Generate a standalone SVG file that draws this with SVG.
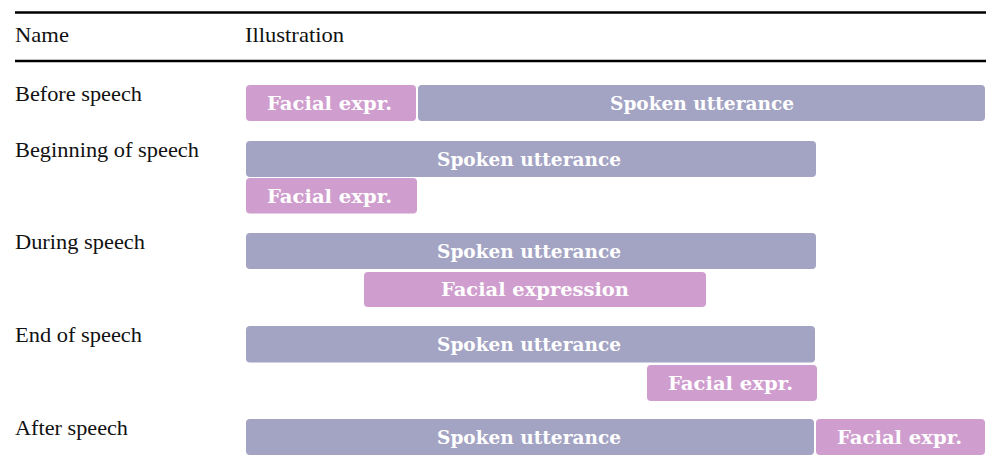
<svg xmlns="http://www.w3.org/2000/svg" width="986" height="467" viewBox="0 0 986 467">
  <style>
    .rule { stroke: #000; stroke-width: 2.4; }
    .head, .name { font-family: "Liberation Serif", "Times New Roman", serif; font-size: 21px; fill: #111; }
    .speech { fill: #A3A3C3; }
    .face { fill: #CF9ECE; }
    .lbl { font-family: "DejaVu Serif", serif; font-weight: bold; font-size: 18px; fill: #fff; text-anchor: middle; }
  </style>
  <rect width="986" height="467" fill="#fff"/>

  <!-- table rules -->
  <line class="rule" x1="15" y1="12.5" x2="986" y2="12.5"/>
  <line class="rule" x1="15" y1="61" x2="986" y2="61"/>

  <!-- header -->
  <text class="head" x="15" y="42" textLength="54" lengthAdjust="spacingAndGlyphs">Name</text>
  <text class="head" x="245" y="42" textLength="99" lengthAdjust="spacingAndGlyphs">Illustration</text>

  <!-- row labels -->
  <text class="name" x="15" y="101" textLength="127" lengthAdjust="spacingAndGlyphs">Before speech</text>
  <text class="name" x="15" y="157" textLength="184" lengthAdjust="spacingAndGlyphs">Beginning of speech</text>
  <text class="name" x="15" y="249" textLength="130" lengthAdjust="spacingAndGlyphs">During speech</text>
  <text class="name" x="15" y="342" textLength="127" lengthAdjust="spacingAndGlyphs">End of speech</text>
  <text class="name" x="15" y="435" textLength="113" lengthAdjust="spacingAndGlyphs">After speech</text>

  <g id="connectors"/>

  <!-- Before speech -->
  <g id="before-face">
    <rect class="face" x="246" y="85" width="170" height="36" rx="4"/>
    <text class="lbl" x="329.5" y="110" textLength="125" lengthAdjust="spacingAndGlyphs">Facial expr.</text>
  </g>
  <g id="before-speech">
    <rect class="speech" x="418" y="85" width="567" height="36" rx="4"/>
    <text class="lbl" x="702" y="110" textLength="184" lengthAdjust="spacingAndGlyphs">Spoken utterance</text>
  </g>

  <!-- Beginning of speech -->
  <g id="begin-speech">
    <rect class="speech" x="246" y="141" width="570" height="36" rx="4"/>
    <text class="lbl" x="529" y="166" textLength="184" lengthAdjust="spacingAndGlyphs">Spoken utterance</text>
  </g>
  <g id="begin-face">
    <rect class="face" x="246" y="178" width="171" height="35.5" rx="4"/>
    <text class="lbl" x="329.5" y="203" textLength="125" lengthAdjust="spacingAndGlyphs">Facial expr.</text>
  </g>

  <!-- During speech -->
  <g id="during-speech">
    <rect class="speech" x="246" y="233" width="570" height="36" rx="4"/>
    <text class="lbl" x="529" y="258" textLength="184" lengthAdjust="spacingAndGlyphs">Spoken utterance</text>
  </g>
  <g id="during-face">
    <rect class="face" x="364" y="272" width="342" height="35" rx="4"/>
    <text class="lbl" x="535" y="296" textLength="188" lengthAdjust="spacingAndGlyphs">Facial expression</text>
  </g>

  <!-- End of speech -->
  <g id="end-speech">
    <rect class="speech" x="246" y="326" width="569" height="36.5" rx="4"/>
    <text class="lbl" x="529" y="351" textLength="184" lengthAdjust="spacingAndGlyphs">Spoken utterance</text>
  </g>
  <g id="end-face">
    <rect class="face" x="647" y="365" width="170" height="36" rx="4"/>
    <text class="lbl" x="730.5" y="390" textLength="125" lengthAdjust="spacingAndGlyphs">Facial expr.</text>
  </g>

  <!-- After speech -->
  <g id="after-speech">
    <rect class="speech" x="246" y="419" width="568" height="36" rx="4"/>
    <text class="lbl" x="529" y="444" textLength="184" lengthAdjust="spacingAndGlyphs">Spoken utterance</text>
  </g>
  <g id="after-face">
    <rect class="face" x="816" y="419" width="169" height="36" rx="4"/>
    <text class="lbl" x="899.5" y="444" textLength="125" lengthAdjust="spacingAndGlyphs">Facial expr.</text>
  </g>
</svg>
